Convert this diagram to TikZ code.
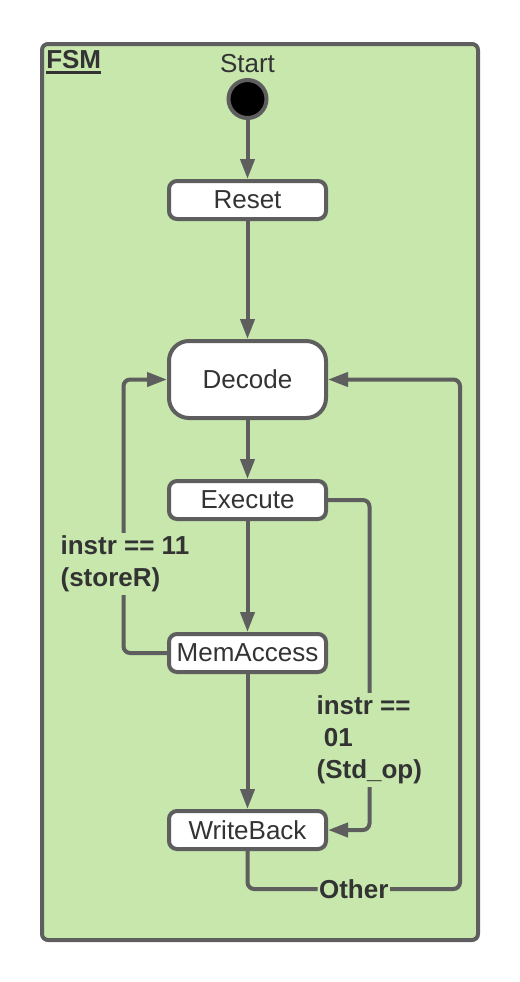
\documentclass[tikz,border=0pt]{standalone}
\usepackage{fontspec}
\setmainfont{Liberation Sans}
\usetikzlibrary{arrows.meta}
\definecolor{bggreen}{HTML}{C7E7AD}
\definecolor{linegray}{HTML}{5E5E5E}
\definecolor{txt}{HTML}{333333}
\begin{document}
\begin{tikzpicture}[x=0.75pt,y=-0.75pt,
  state/.style={draw=linegray, line width=3pt, fill=white, rounded corners=6pt,
    minimum width=117.75pt, minimum height=28.5pt, inner sep=0pt, text=txt,
    font=\fontsize{19.5}{22}\selectfont},
  conn/.style={draw=linegray, line width=3pt, -{Triangle[width=10.5pt,length=15pt]},
    rounded corners=5pt},
  lbl/.style={fill=bggreen, text=txt, font=\bfseries\fontsize{19.5}{24}\selectfont,
    inner xsep=1pt, inner ysep=2pt, align=left}]
\useasboundingbox (0,0) rectangle (520,982);
\draw[linegray, line width=3pt, fill=bggreen, rounded corners=4.5pt] (42,44) rectangle (478,940);

\node[anchor=base west, text=txt, inner sep=0pt, font=\bfseries\fontsize{19.5}{22}\selectfont] (fsm) at (46,68) {FSM};
\draw[txt, line width=2pt] ([yshift=-3.5pt]fsm.base west) -- ([yshift=-3.5pt]fsm.base east);

\node[anchor=base, text=txt, inner sep=0pt, font=\fontsize{19.5}{22}\selectfont] (starttxt) at (247.5,72) {Start};
\node[circle, draw=linegray, line width=3pt, fill=black, minimum size=28.5pt, inner sep=0pt] (start) at (247.5,99) {};

\node[state] (reset) at (247.5,200) {Reset};
\node[state, minimum height=57.75pt, rounded corners=15pt] (decode) at (247.5,379.5) {Decode};
\node[state] (exec) at (247.5,500) {Execute};
\node[state] (mem) at (247.5,653) {MemAccess};
\node[state] (wb) at (247.5,830) {WriteBack};

\draw[conn] (start) -- (reset);
\draw[conn] (reset) -- (decode);
\draw[conn] (decode) -- (exec);
\draw[conn] (exec) -- (mem);
\draw[conn] (mem) -- (wb);

\draw[conn] (mem.west) -- ++(-43.5,0) |- (decode.west);
\node[lbl, anchor=west] (l1) at (59,564) {instr == 11\\(storeR)};

\draw[conn] (exec.east) -- ++(41.5,0) |- (wb.east);
\node[lbl, anchor=west] (l2) at (315,740) {instr ==\\\ 01\\(Std\_op)};

\draw[conn] (wb.south) -- ++(0,38) -- node[lbl, inner ysep=0pt] (l3) {Other} ++(212.5,0) |- (decode.east);
\end{tikzpicture}
\end{document}
